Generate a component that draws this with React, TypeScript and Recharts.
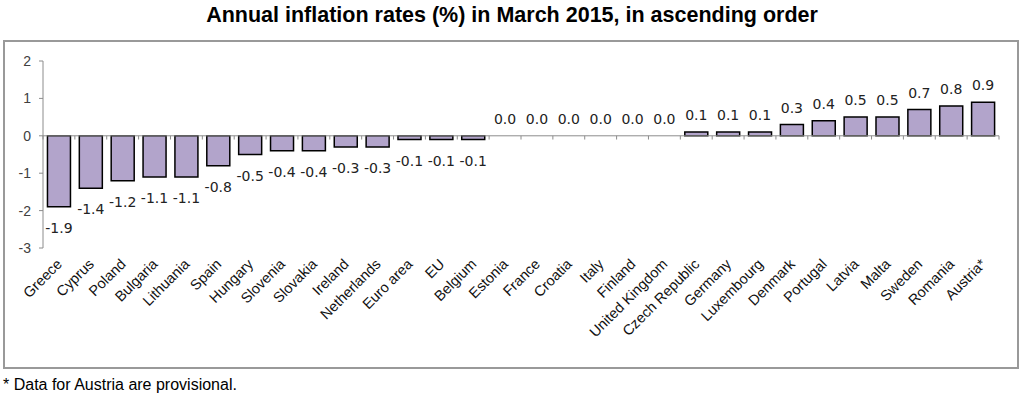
import React from 'react';
import { ComposedChart, Bar, Line, XAxis, YAxis, ReferenceLine, LabelList } from 'recharts';

const categories = [
  'Greece', 'Cyprus', 'Poland', 'Bulgaria', 'Lithuania', 'Spain', 'Hungary', 'Slovenia',
  'Slovakia', 'Ireland', 'Netherlands', 'Euro area', 'EU', 'Belgium', 'Estonia', 'France',
  'Croatia', 'Italy', 'Finland', 'United Kingdom', 'Czech Republic', 'Germany', 'Luxembourg',
  'Denmark', 'Portugal', 'Latvia', 'Malta', 'Sweden', 'Romania', 'Austria*',
];
const values = [
  -1.9, -1.4, -1.2, -1.1, -1.1, -0.8, -0.5, -0.4, -0.4, -0.3, -0.3, -0.1, -0.1, -0.1,
  0.0, 0.0, 0.0, 0.0, 0.0, 0.0, 0.1, 0.1, 0.1, 0.3, 0.4, 0.5, 0.5, 0.7, 0.8, 0.9,
];
const yTicks = [-3, -2, -1, 0, 1, 2];
const titleText = 'Annual inflation rates (%) in March 2015, in ascending order';
const footnoteText = '* Data for Austria are provisional.';

const data = categories.map((name, i) => ({ name, value: values[i] }));

const ValueLabel = (props: any) => {
  const { x, y, value } = props;
  const v = Number(value);
  const ty = v < 0 ? Number(y) + 21 : Number(y) - 17;
  return (
    <text
      x={Number(x)}
      y={ty}
      textAnchor="middle"
      dominantBaseline="central"
      fontFamily="'DejaVu Sans', Verdana, sans-serif"
      fontSize={14}
      fill="#222"
    >
      {v.toFixed(1)}
    </text>
  );
};

const CatTick = (props: any) => {
  const { x, y, payload } = props;
  const ax = x + 4;
  const ay = y + 17;
  return (
    <text
      x={ax}
      y={ay}
      transform={`rotate(-45, ${ax}, ${ay})`}
      textAnchor="end"
      fontFamily="'Liberation Sans', Arial, sans-serif"
      fontSize={14.5}
      fill="#111"
    >
      {payload.value}
    </text>
  );
};

export default function App() {
  return (
    <div style={{ position: 'absolute', left: 0, top: 0, width: 1024, height: 398, background: '#fff' }}>
      <div
        style={{
          position: 'absolute', left: 0, top: 3, width: 1024, textAlign: 'center',
          fontFamily: "'Liberation Sans', Arial, sans-serif", fontWeight: 'bold', fontSize: 21.5, color: '#000',
        }}
      >
        {titleText}
      </div>
      <div
        style={{
          position: 'absolute', left: 3, top: 40, width: 1012, height: 325,
          border: '2px solid #999', boxSizing: 'content-box',
        }}
      />
      <div style={{ position: 'absolute', left: 0, top: 0 }}>
        <ComposedChart
          width={1024}
          height={398}
          data={data}
          margin={{ top: 61, right: 25, bottom: 120, left: 3 }}
          barCategoryGap="14%"
        >
          <XAxis
            dataKey="name"
            interval={0}
            axisLine={false}
            tickLine={false}
            tickSize={0}
            tickMargin={0}
            height={30}
            tick={<CatTick />}
          />
          <YAxis
            domain={[-3, 2]}
            ticks={yTicks}
            interval={0}
            width={40}
            axisLine={{ stroke: '#8c8c8c' }}
            tickLine={{ stroke: '#8c8c8c' }}
            tickSize={4}
            tickMargin={8}
            tick={{ fontFamily: "'Liberation Sans', Arial, sans-serif", fontSize: 14, fill: '#404040' }}
          />
          <ReferenceLine y={0} stroke="#8c8c8c" strokeWidth={1} />
          {categories.map((c) => (
            <ReferenceLine
              key={`t-${c}`}
              segment={[{ x: c, y: 0 }, { x: c, y: -0.1 }]}
              position="start"
              stroke="#8c8c8c"
              strokeWidth={1}
            />
          ))}
          <ReferenceLine
            segment={[{ x: categories[categories.length - 1], y: 0 }, { x: categories[categories.length - 1], y: -0.1 }]}
            position="end"
            stroke="#8c8c8c"
            strokeWidth={1}
          />
          <Bar dataKey="value" fill="#b2a4cb" stroke="#000" strokeWidth={1.5} isAnimationActive={false} />
          <Line
            dataKey="value"
            stroke="none"
            dot={false}
            activeDot={false}
            legendType="none"
            isAnimationActive={false}
          >
            <LabelList dataKey="value" content={<ValueLabel />} />
          </Line>
        </ComposedChart>
      </div>
      <div
        style={{
          position: 'absolute', left: 3, top: 376,
          fontFamily: "'Liberation Sans', Arial, sans-serif", fontSize: 16, color: '#000',
        }}
      >
        {footnoteText}
      </div>
    </div>
  );
}
